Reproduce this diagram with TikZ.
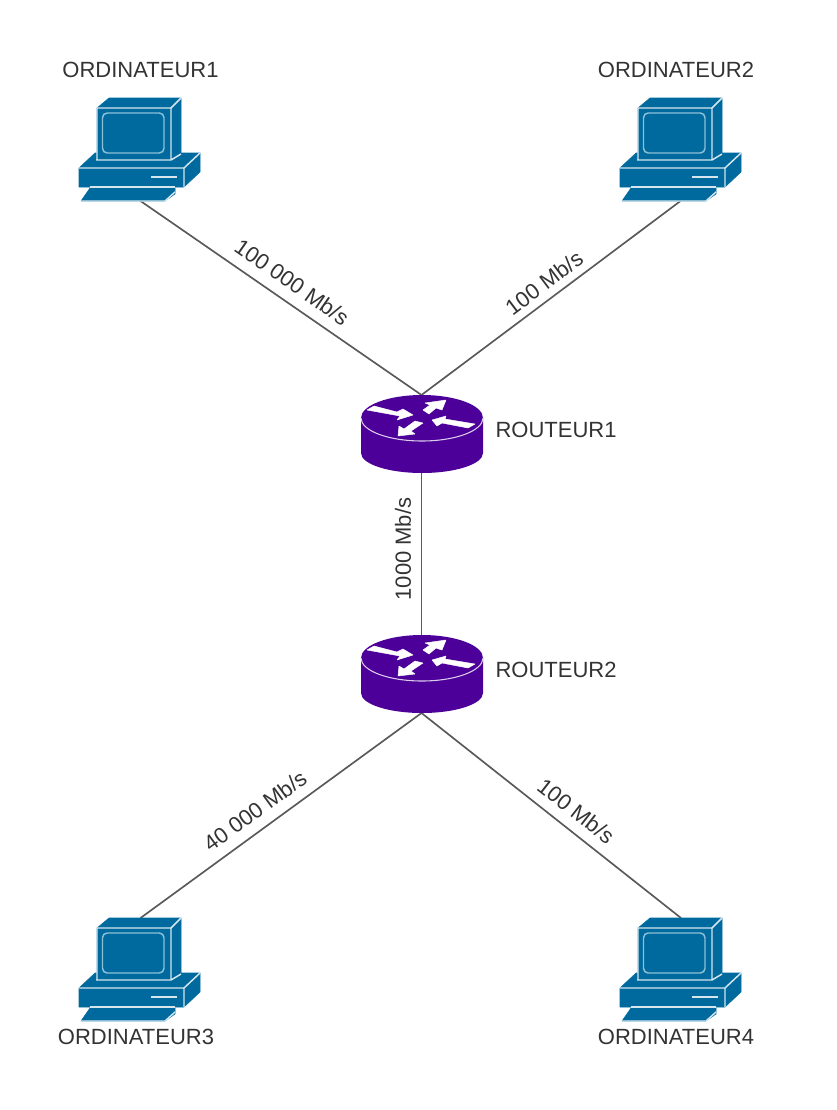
\documentclass[tikz,border=0pt]{standalone}
\usepackage{fontspec}
\setmainfont{Liberation Sans}
\definecolor{pcblue}{HTML}{006A9E}
\definecolor{pcline}{HTML}{D5E6EF}
\definecolor{pcscreen}{HTML}{8DBFD8}
\definecolor{routerv}{HTML}{4C0099}
\definecolor{edgegray}{HTML}{595959}
\definecolor{txt}{HTML}{333333}
\tikzset{
  link/.style={draw=edgegray,line width=1.25pt},
  lbl/.style={text=txt,font=\fontsize{16.5}{18}\selectfont,inner sep=0pt},
  pcbox/.style={inner sep=0pt,outer sep=0pt,minimum width=91pt,minimum height=77.25pt},
  rtbox/.style={inner sep=0pt,outer sep=0pt,minimum width=91.5pt,minimum height=58.5pt},
  pcedge/.style={draw=pcblue,line width=0.4pt,fill=pcblue,line join=round},
  pcstroke/.style={draw=pcline,line width=1.1pt},
  rarrow/.style={fill=white,draw=white,line width=0.35pt,line join=round},
  computer/.pic={
    % base
    \path[pcedge] (0,70) -- (16,55) -- (121,55) -- (121,74) -- (105,89) -- (0,89) -- cycle;
    \draw[pcstroke] (0,70) -- (105,70) -- (121,55) (105,70) -- (105,89);
    \draw[pcstroke,line width=1.4pt] (72,79) -- (98,79);
    % monitor
    \path[pcedge] (18,10) -- (18,62) -- (92,62) -- (102,56) -- (102,0) -- (30,0) -- cycle;
    \draw[pcstroke] (18,62) -- (18,10) -- (92,10) -- (102,0) (92,10) -- (92,62) (17,62) -- (92,62) -- (102,56);
    \draw[draw=pcscreen,line width=1.1pt,rounded corners=3.5pt] (23.5,15) rectangle (85,55);
    % keyboard
    \path[pcedge] (11,90) -- (96,90) -- (96,96) -- (86,103) -- (2,103) -- cycle;
    \draw[pcstroke] (11,89) -- (96,89);
    \draw[pcstroke] (2,103) -- (86,103) -- (96,94);
  },
  router/.pic={
    \fill[routerv] (0,23) -- (0,58) arc[start angle=180,end angle=0,x radius=61,y radius=20] -- (122,23) arc[start angle=0,end angle=-180,x radius=61,y radius=23] -- cycle;
    \draw[white!80!routerv,line width=0.8pt] (0,23) arc[start angle=180,end angle=0,x radius=61,y radius=23];
    \path[rarrow] (6,15) -- (13,11) -- (36,17) -- (42,14) -- (52,20) -- (36,25) -- (39,21) -- cycle;
    \path[rarrow] (62,15) -- (69,10) -- (64,8) -- (85,5) -- (81,15) -- (75,13) -- (68,19) -- cycle;
    \path[rarrow] (71,25) -- (85,21) -- (84,24) -- (114,29) -- (107,33) -- (81,28) -- (76,31) -- cycle;
    \path[rarrow] (37,41) -- (38,31) -- (43,34) -- (54,26) -- (62,28) -- (50,36) -- (54,39) -- cycle;
  }
}
\begin{document}
\begin{tikzpicture}[x=0.75pt,y=-0.75pt]
\useasboundingbox (0,0) rectangle (836,1110);
% icon nodes
\node[pcbox] (c1) at (140.5,149.5) {};
\node[pcbox] (c2) at (680.5,149.5) {};
\node[pcbox] (c3) at (140.5,969.5) {};
\node[pcbox] (c4) at (681,969.5) {};
\node[rtbox] (r1) at (421.5,434) {};
\node[rtbox] (r2) at (421.5,674) {};
% links
\draw[link] (c1.south) -- (r1.north);
\draw[link] (c2.south) -- (r1.north);
\draw[link] (r1.south) -- (r2.north);
\draw[link] (r2.south) -- (c3.north);
\draw[link] (r2.south) -- (c4.north);
% icons
\pic at (79,98) {computer};
\pic at (620,98) {computer};
\pic at (79,918) {computer};
\pic at (620,918) {computer};
\pic at (361,395) {router};
\pic at (361,635) {router};
% labels
\node[lbl] (tc1) at (140.5,70) {ORDINATEUR1};
\node[lbl] (tc2) at (676,70) {ORDINATEUR2};
\node[lbl] (tc3) at (136,1037) {ORDINATEUR3};
\node[lbl] (tc4) at (676,1037) {ORDINATEUR4};
\node[lbl] (tr1) at (556,430) {ROUTEUR1};
\node[lbl] (tr2) at (556,670) {ROUTEUR2};
\node[lbl,rotate=-35] (l1) at (292,282) {100 000 Mb/s};
\node[lbl,rotate=37] (l2) at (544,283) {100 Mb/s};
\node[lbl,rotate=90] (l3) at (403,549) {1000 Mb/s};
\node[lbl,rotate=36] (l4) at (255,811) {40 000 Mb/s};
\node[lbl,rotate=-38] (l5) at (576,811) {100 Mb/s};
\end{tikzpicture}
\end{document}
